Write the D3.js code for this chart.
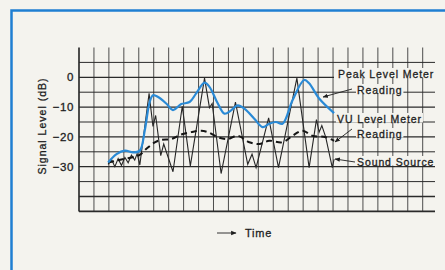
<!DOCTYPE html>
<html>
<head>
<meta charset="utf-8">
<script src="https://cdn.jsdelivr.net/npm/d3@7"></script>
<style>
  html, body { margin: 0; padding: 0; background: #f4f3ee; }
  svg { display: block; }
  text { font-family: "Liberation Sans", Arial, sans-serif; fill: #1e1e1e; stroke: #1e1e1e; stroke-width: 0.3px; }
</style>
</head>
<body>
<svg id="chart" width="445" height="270"></svg>
<script>
// time is in grid columns, level in dB
const soundTime = [1.95, 2.18, 2.4, 2.62, 2.84, 3.07, 3.29, 3.51, 3.73, 3.89, 4.07, 4.69, 4.95, 5.13, 5.47, 5.67, 6.29, 6.91, 7.45, 8.4, 8.73, 8.91, 9.51, 10.47, 11.29, 11.58, 11.85, 12.69, 13.35, 14.58, 15.4, 15.89, 16.07, 16.25, 16.51, 16.95, 17.07];
const soundDb   = [-29.2, -27.6, -30, -27.3, -29.6, -26.9, -28.7, -26.1, -27.8, -25.6, -29.4, -5.4, -16.5, -12.8, -26.3, -22.4, -31.7, -9.7, -29.7, -0.3, -10.2, -8.8, -32.3, -8.3, -29.2, -25.8, -30.3, -13.6, -30.3, -0.3, -30.3, -14.2, -18.4, -16.2, -20.1, -30.3, -27.5];

const peakTime = [1.95, 2.51, 3.07, 3.62, 4.07, 4.4, 4.73, 4.95, 5.29, 5.84, 6.29, 6.84, 7.4, 7.84, 8.4, 8.73, 9.29, 9.73, 10.18, 10.62, 11.07, 11.73, 12.29, 12.73, 13.18, 13.62, 14.29, 15.07, 15.4, 16.07, 17.07];
const peakDb   = [-28.6, -25.8, -24.6, -25.2, -24.6, -17.9, -8.3, -6, -6.6, -8.8, -11, -9, -8.3, -5.4, -1.8, -3.2, -8.8, -12.2, -11.1, -9.4, -10.5, -13.9, -16.7, -15.6, -15, -15.6, -7.7, -0.9, -2, -7.1, -12];

const vuTime = [1.95, 3.0, 4.0, 4.51, 5.07, 5.51, 6.18, 6.84, 7.51, 8.18, 8.62, 9.29, 9.95, 10.62, 11.4, 12.07, 12.73, 13.62, 14.29, 14.96, 15.62, 16.51, 17.07];
const vuDb   = [-28.6, -27.4, -26.2, -24, -21.8, -21, -20.7, -19.2, -18.4, -17.9, -18.4, -20.1, -20.7, -19.6, -21.8, -22.4, -21.3, -21.8, -19.6, -17.9, -19.6, -20.1, -21.3];

const yTicks = [0, -10, -20, -30];
const minorLevels = [5, 0, -5, -10, -15, -20, -25, -30, -35, -40, -45];
const columns = d3.range(0, 24);

const labels = [
  {text: "Peak Level Meter", x: 338, y: 78},
  {text: "Reading", x: 357, y: 94},
  {text: "VU Level Meter", x: 337, y: 123},
  {text: "Reading", x: 357, y: 138},
  {text: "Sound Source", x: 357, y: 166}
];

const svg = d3.select("#chart");
const paper = "#f4f3ee";

// blue frame
svg.append("rect")
  .attr("x", 11.5).attr("y", 10.5)
  .attr("width", 470).attr("height", 300)
  .attr("fill", "none")
  .attr("stroke", "#1f7fd2")
  .attr("stroke-width", 2.5);

const x = d3.scaleLinear().domain([0, 23]).range([79, 422.7]);
const y = d3.scaleLinear().domain([10, -45]).range([47.5, 211.4]);
const rightEnd = 435;

const grid = svg.append("g");

// vertical grid lines
grid.selectAll(".vline").data(columns).join("line")
  .attr("x1", d => x(d)).attr("x2", d => x(d))
  .attr("y1", y(10)).attr("y2", y(-45))
  .attr("stroke", d => d === 0 ? "#222" : "#3a3a3a")
  .attr("stroke-width", d => d === 0 ? 1.6 : 0.9);

// horizontal grid lines
grid.selectAll(".hline").data(minorLevels).join("line")
  .attr("x1", x(0))
  .attr("x2", d => d === 0 ? 334 : rightEnd)
  .attr("y1", d => y(d)).attr("y2", d => y(d))
  .attr("stroke", "#2a2a2a")
  .attr("stroke-width", d => d === -45 ? 1.6 : (d % 10 === 0 ? 1.3 : 1));

// y axis labels
const yAxis = d3.axisLeft(y).tickValues(yTicks).tickSize(0).tickPadding(5)
  .tickFormat(d => d === 0 ? "0" : "\u2212" + Math.abs(d));
svg.append("g")
  .attr("transform", `translate(${x(0)},0)`)
  .call(yAxis)
  .call(g => g.select(".domain").remove())
  .selectAll("text")
  .attr("font-size", 11.5)
  .attr("letter-spacing", 0.6)
  .style("font-family", "'Liberation Sans', Arial, sans-serif")
  .attr("fill", "#1e1e1e");

svg.append("text")
  .attr("transform", "translate(46,126) rotate(-90)")
  .attr("text-anchor", "middle")
  .attr("font-size", 10.5)
  .attr("letter-spacing", 1)
  .text("Signal Level (dB)");

// series
const pts = (t, v) => t.map((d, i) => [d, v[i]]);
const line = d3.line().x(d => x(d[0])).y(d => y(d[1]));

svg.append("path")
  .datum(pts(soundTime, soundDb))
  .attr("fill", "none")
  .attr("stroke", "#262626")
  .attr("stroke-width", 1.1)
  .attr("stroke-linejoin", "miter")
  .attr("d", line);

svg.append("path")
  .datum(pts(vuTime, vuDb))
  .attr("fill", "none")
  .attr("stroke", "#151515")
  .attr("stroke-width", 2)
  .attr("stroke-dasharray", "6,4")
  .attr("d", line.curve(d3.curveCatmullRom));

svg.append("path")
  .datum(pts(peakTime, peakDb))
  .attr("fill", "none")
  .attr("stroke", "#2a8ad6")
  .attr("stroke-width", 2.2)
  .attr("d", d3.line().x(d => x(d[0])).y(d => y(d[1])).curve(d3.curveCatmullRom));

// labels with paper backing
const lab = svg.append("g");
labels.forEach(l => {
  const t = lab.append("text")
    .attr("x", l.x).attr("y", l.y)
    .attr("font-size", 10.5)
    .attr("letter-spacing", 0.9)
    .text(l.text);
  const b = t.node().getBBox();
  lab.insert("rect", "text")
    .attr("x", b.x - 1).attr("y", b.y)
    .attr("width", b.width + 2).attr("height", l.y - b.y - 0.5)
    .attr("fill", paper);
});

// leader arrows
const defs = svg.append("defs");
defs.append("marker")
  .attr("id", "arrow")
  .attr("viewBox", "0 0 10 10")
  .attr("refX", 9).attr("refY", 5)
  .attr("markerWidth", 6).attr("markerHeight", 6)
  .attr("orient", "auto-start-reverse")
  .append("path")
  .attr("d", "M0,1 L10,5 L0,9 Z")
  .attr("fill", "#1e1e1e");

const leaders = [
  [[352, 89], [323, 97]],
  [[352, 129], [335, 142]],
  [[355, 162], [335, 159]],
  [[217, 233], [236, 233]]
];
svg.selectAll(".leader").data(leaders).join("line")
  .attr("x1", d => d[0][0]).attr("y1", d => d[0][1])
  .attr("x2", d => d[1][0]).attr("y2", d => d[1][1])
  .attr("stroke", "#1e1e1e")
  .attr("stroke-width", 0.9)
  .attr("marker-end", "url(#arrow)");

svg.append("text")
  .attr("x", 245).attr("y", 237)
  .attr("font-size", 11)
  .attr("letter-spacing", 0.8)
  .text("Time");
</script>
</body>
</html>
